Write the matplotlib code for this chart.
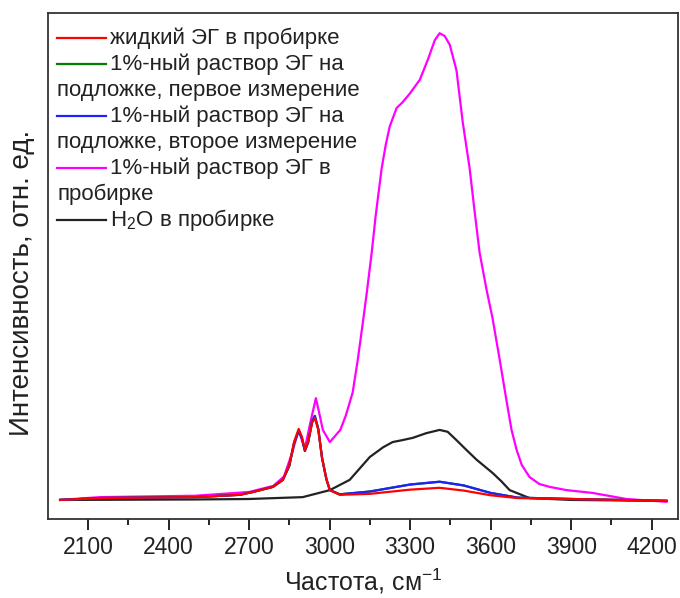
import numpy as np
import matplotlib
matplotlib.use("Agg")
import matplotlib.pyplot as plt
from matplotlib.ticker import MultipleLocator

plt.rcParams['font.family'] = ['Liberation Sans', 'DejaVu Sans']
plt.rcParams['mathtext.fontset'] = 'custom'
plt.rcParams['mathtext.rm'] = 'Liberation Sans'
plt.rcParams['mathtext.it'] = 'Liberation Sans'

# волновые числа, см-1 и интенсивности (отн. ед.)
wn_eg = [1996, 2145, 2500, 2666, 2714, 2789, 2826, 2850, 2868, 2885, 2897, 2908,
         2920, 2935, 2945, 2958, 2972, 2988, 3001, 3038, 3150, 3300, 3410, 3500,
         3600, 3700, 3900, 4255]
eg_liquid = [0.0, 0.004, 0.006, 0.011, 0.017, 0.028, 0.043, 0.075, 0.125, 0.152,
             0.135, 0.107, 0.125, 0.165, 0.176, 0.15, 0.09, 0.045, 0.021, 0.011,
             0.013, 0.022, 0.026, 0.02, 0.01, 0.004, 0.002, -0.002]
eg_sub_1 = [0.0, 0.004, 0.006, 0.011, 0.017, 0.028, 0.043, 0.073, 0.122, 0.148,
            0.132, 0.105, 0.123, 0.168, 0.18, 0.152, 0.09, 0.045, 0.021, 0.012,
            0.018, 0.033, 0.039, 0.031, 0.015, 0.005, 0.002, -0.002]
eg_sub_2 = [0.0, 0.004, 0.006, 0.011, 0.017, 0.028, 0.043, 0.073, 0.122, 0.148,
            0.132, 0.105, 0.123, 0.168, 0.18, 0.152, 0.09, 0.045, 0.021, 0.012,
            0.018, 0.033, 0.039, 0.031, 0.015, 0.005, 0.002, -0.002]

wn_sol = [1996, 2145, 2500, 2700, 2790, 2830, 2860, 2885, 2897, 2908, 2930, 2949,
          2960, 2975, 3001, 3040, 3060, 3086, 3105, 3124, 3140, 3157, 3172, 3194,
          3209, 3224, 3250, 3272, 3298, 3336, 3366, 3392, 3410, 3429, 3448, 3473,
          3496, 3522, 3540, 3559, 3585, 3607, 3634, 3660, 3678, 3697, 3716, 3745,
          3782, 3820, 3883, 3980, 4106, 4255]
eg_sol = [0.0, 0.006, 0.009, 0.017, 0.03, 0.05, 0.1, 0.15, 0.128, 0.11, 0.17, 0.218,
          0.19, 0.15, 0.124, 0.15, 0.18, 0.23, 0.30, 0.38, 0.45, 0.53, 0.61, 0.71,
          0.76, 0.80, 0.84, 0.852, 0.87, 0.90, 0.943, 0.985, 1.0, 0.994, 0.975, 0.92,
          0.81, 0.71, 0.62, 0.53, 0.45, 0.39, 0.30, 0.21, 0.15, 0.107, 0.075, 0.049,
          0.034, 0.028, 0.021, 0.015, 0.002, -0.004]

wn_w = [1996, 2500, 2700, 2900, 3001, 3075, 3150, 3200, 3235, 3270, 3310, 3360,
        3410, 3440, 3473, 3510, 3548, 3607, 3640, 3671, 3745, 3900, 4255]
water = [0.0, 0.001, 0.002, 0.006, 0.021, 0.043, 0.092, 0.113, 0.124, 0.128, 0.133,
         0.143, 0.15, 0.146, 0.128, 0.107, 0.086, 0.058, 0.04, 0.021, 0.004, 0.0, -0.002]

labels = ["жидкий ЭГ в пробирке",
          "1%-ный раствор ЭГ на\nподложке, первое измерение",
          "1%-ный раствор ЭГ на\nподложке, второе измерение",
          "1%-ный раствор ЭГ в\nпробирке",
          "H$_2$O в пробирке"]
colors = ["#ff0000", "#008000", "#2020ff", "#ff00ff", "#222222"]

fig = plt.figure(figsize=(6.8, 5.98), dpi=100)
ax = fig.add_axes([0.0706, 0.132, 0.926, 0.846])

lw = 1.6
ax.plot(wn_sol, eg_sol, color=colors[3], lw=lw, zorder=2)
ax.plot(wn_w, water, color=colors[4], lw=lw, zorder=3)
ax.plot(wn_eg, eg_sub_1, color=colors[1], lw=lw, zorder=4)
ax.plot(wn_eg, eg_sub_2, color=colors[2], lw=lw, zorder=5)
ax.plot(wn_eg, eg_liquid, color=colors[0], lw=lw, zorder=6)

ax.set_xlim(1951, 4297)
ax.set_ylim(-0.041, 1.043)
ax.xaxis.set_major_locator(MultipleLocator(300))
ax.xaxis.set_minor_locator(MultipleLocator(150))
ax.set_xticks(range(2100, 4201, 300))
ax.tick_params(axis='x', which='major', direction='out', length=8, width=1.2,
               labelsize=16.5, pad=4, top=False, labelcolor='#222222')
ax.tick_params(axis='x', which='minor', direction='out', length=4, width=1.2, top=False)
ax.set_yticks([])
for s in ax.spines.values():
    s.set_linewidth(1.3)
    s.set_color('#333333')

ax.set_xlabel("Частота, см$^{-1}$", fontsize=18, labelpad=6, color='#222222')
ax.set_ylabel("Интенсивность, отн. ед.", fontsize=20, color='#222222')
ax.yaxis.set_label_coords(-0.02, 0.466)

# легенда в стиле Origin: перенос строки начинается под линией
y = 0.9506
dy = 0.0514
for lab, c in zip(labels, colors):
    parts = lab.split("\n")
    ax.plot([0.0143, 0.092], [y, y], transform=ax.transAxes, color=c, lw=lw, clip_on=False)
    ax.text(0.098, y, parts[0], transform=ax.transAxes, fontsize=16, va='center',
            ha='left', color='#222222')
    for p in parts[1:]:
        y -= dy
        ax.text(0.0143, y, p, transform=ax.transAxes, fontsize=16, va='center',
                ha='left', color='#222222')
    y -= dy

fig.savefig("out.png", dpi=100)
